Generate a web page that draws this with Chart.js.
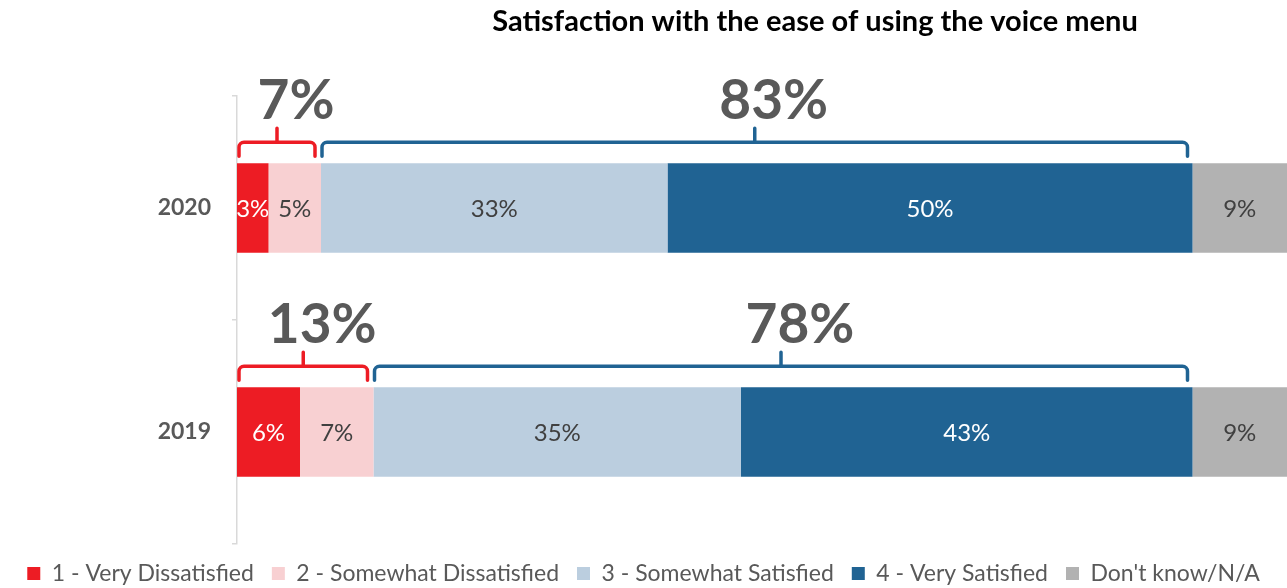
<!DOCTYPE html>
<html>
<head>
<meta charset="utf-8">
<script src="https://cdn.jsdelivr.net/npm/chart.js@4.4.1/dist/chart.umd.min.js"></script>
<style>
  body { margin: 0; background: #fff; }
  #wrap { width: 1287px; height: 588px; }
</style>
</head>
<body>
<div id="wrap"><canvas id="myChart" width="1287" height="588"></canvas></div>
<script>
const years = ['2020', '2019'];
const seriesNames = ['1 - Very Dissatisfied', '2 - Somewhat Dissatisfied', '3 - Somewhat Satisfied', '4 - Very Satisfied', "Don't know/N/A"];
const veryDissatisfied = [3, 6];
const somewhatDissatisfied = [5, 7];
const somewhatSatisfied = [33, 35];
const verySatisfied = [50, 43];
const dontKnow = [9, 9];
// net scores printed above the braces
const netDissatisfied = [7, 13];
const netSatisfied = [83, 78];

const colors = ['#ED1C24', '#F8D0D2', '#BBCEDF', '#206393', '#B2B2B2'];
const labelColors = ['#ffffff', '#404040', '#404040', '#ffffff', '#404040'];
const FONT = 'Lato';

// value labels inside each segment, clipped to the segment
const segmentLabels = {
    id: 'segmentLabels',
    afterDatasetsDraw(chart) {
        const ctx = chart.ctx;
        chart.data.datasets.forEach((ds, di) => {
            chart.getDatasetMeta(di).data.forEach((bar, i) => {
                const left = Math.min(bar.base, bar.x), right = Math.max(bar.base, bar.x);
                const top = bar.y - bar.height / 2;
                ctx.save();
                ctx.beginPath();
                ctx.rect(left, top, right - left, bar.height);
                ctx.clip();
                ctx.fillStyle = labelColors[di];
                ctx.font = '24px ' + FONT;
                ctx.textAlign = 'center';
                ctx.textBaseline = 'middle';
                ctx.fillText(ds.data[i] + '%', (left + right) / 2, bar.y + 1);
                ctx.restore();
            });
        });
    }
};

// braces over the dissatisfied / satisfied groups with the net score
const braces = {
    id: 'braces',
    afterDatasetsDraw(chart) {
        const ctx = chart.ctx;
        const m = i => chart.getDatasetMeta(i).data;
        const drawBrace = (x0, x1, barTop, color, text) => {
            const yTop = barTop - 21, yEnd = barTop - 7, yTip = barTop - 35, r = 5;
            const mid = (x0 + x1) / 2;
            ctx.save();
            ctx.strokeStyle = color;
            ctx.lineWidth = 3.5;
            ctx.lineCap = 'round';
            ctx.lineJoin = 'round';
            ctx.beginPath();
            ctx.moveTo(x0, yEnd);
            ctx.arcTo(x0, yTop, x0 + r, yTop, r);
            ctx.lineTo(x1 - r, yTop);
            ctx.arcTo(x1, yTop, x1, yEnd, r);
            ctx.lineTo(x1, yEnd);
            ctx.moveTo(mid, yTop);
            ctx.lineTo(mid, yTip);
            ctx.stroke();
            ctx.fillStyle = '#595959';
            ctx.font = 'bold 55px ' + FONT;
            ctx.textAlign = 'center';
            ctx.textBaseline = 'middle';
            ctx.fillText(text, mid + 19, barTop - 62);
            ctx.restore();
        };
        years.forEach((y, i) => {
            const b0 = m(0)[i], b1 = m(1)[i], b2 = m(2)[i], b3 = m(3)[i];
            const top = b0.y - b0.height / 2;
            drawBrace(b0.base + 2, b1.x - 6, top, '#ED1C24', netDissatisfied[i] + '%');
            drawBrace(b2.base + 1, b3.x - 5, top, '#206393', netSatisfied[i] + '%');
        });
    }
};

const chartTitle = {
    id: 'chartTitle',
    afterDraw(chart) {
        const ctx = chart.ctx;
        ctx.save();
        ctx.fillStyle = '#000';
        ctx.font = 'bold 29px ' + FONT;
        ctx.textAlign = 'center';
        ctx.textBaseline = 'middle';
        ctx.fillText('Satisfaction with the ease of using the voice menu', 815, 22);
        ctx.restore();
    }
};

const values = [veryDissatisfied, somewhatDissatisfied, somewhatSatisfied, verySatisfied, dontKnow];

const ctx = document.getElementById('myChart').getContext('2d');
const myChart = new Chart(ctx, {
    type: 'bar',
    data: {
        labels: years,
        datasets: seriesNames.map((name, k) => ({
            label: name,
            data: values[k],
            backgroundColor: colors[k],
            borderWidth: 0,
            categoryPercentage: 0.8,
            barPercentage: 0.5
        }))
    },
    options: {
        responsive: false,
        animation: false,
        indexAxis: 'y',
        layout: { padding: { top: 96, left: 0, right: 0, bottom: -7 } },
        scales: {
            x: {
                stacked: true,
                min: 0,
                max: 100,
                ticks: { display: false },
                grid: { display: false },
                border: { display: false },
                afterFit: s => { s.height = 0; }
            },
            y: {
                stacked: true,
                grid: { drawOnChartArea: false, drawTicks: true, tickLength: 5, color: '#D9D9D9', lineWidth: 1.5 },
                border: { display: true, color: '#D9D9D9', width: 1.5 },
                ticks: { color: '#595959', font: { family: FONT, size: 23, weight: 'bold' }, padding: 21 },
                afterFit: s => { s.width = 237; }
            }
        },
        plugins: {
            legend: {
                position: 'bottom',
                labels: {
                    boxWidth: 13,
                    boxHeight: 13,
                    padding: 18,
                    color: '#595959',
                    font: { family: FONT, size: 23 }
                }
            },
            tooltip: { enabled: false }
        }
    },
    plugins: [segmentLabels, braces, chartTitle]
});
</script>
</body>
</html>
